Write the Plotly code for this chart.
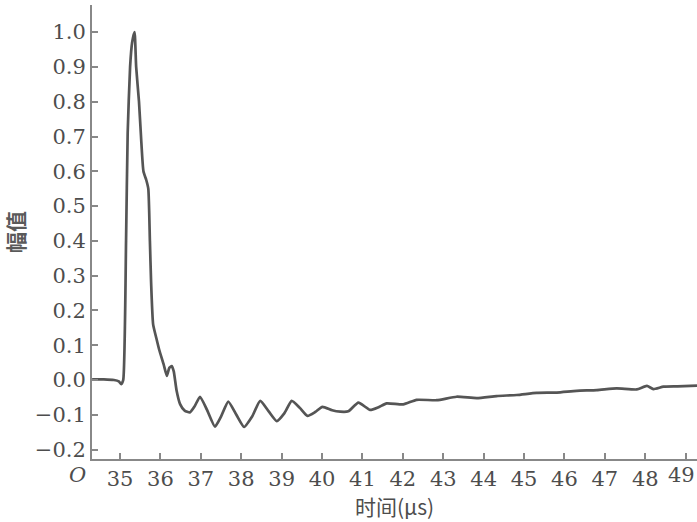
import plotly.graph_objects as go

time_us = [34.31, 34.6, 34.85, 34.97, 35.03, 35.08, 35.15, 35.19, 35.25, 35.30, 35.36,
           35.40, 35.47, 35.52, 35.58, 35.65, 35.70, 35.74, 35.77, 35.82, 35.90, 35.97,
           36.08, 36.16, 36.22, 36.28, 36.33, 36.40, 36.49, 36.6, 36.73, 36.85, 36.98,
           37.15, 37.35, 37.5, 37.68, 37.88, 38.07, 38.27, 38.47, 38.68, 38.88, 39.07,
           39.25, 39.45, 39.64, 39.83, 40.01, 40.25, 40.45, 40.65, 40.9, 41.19, 41.4,
           41.6, 42.01, 42.34, 42.84, 43.33, 43.83, 44.32, 44.82, 45.31, 45.81, 46.3,
           46.8, 47.29, 47.79, 48.04, 48.2, 48.45, 48.8, 49.28]
amplitude = [0.002, 0.002, 0.0, -0.004, -0.012, 0.0, 0.4, 0.71, 0.9, 0.97, 1.0,
             0.9, 0.8, 0.7, 0.6, 0.575, 0.55, 0.4, 0.28, 0.16, 0.12, 0.087,
             0.045, 0.012, 0.035, 0.04, 0.025, -0.03, -0.07, -0.088, -0.093, -0.075, -0.048,
             -0.085, -0.134, -0.105, -0.062, -0.1, -0.135, -0.105, -0.06, -0.09, -0.118, -0.095,
             -0.06, -0.08, -0.103, -0.092, -0.077, -0.087, -0.091, -0.09, -0.065, -0.086, -0.078,
             -0.067, -0.07, -0.057, -0.058, -0.048, -0.052, -0.046, -0.043, -0.037, -0.036, -0.031,
             -0.029, -0.024, -0.027, -0.017, -0.026, -0.019, -0.018, -0.016]

x_ticks = list(range(35, 50))
x_ticklabels = [str(v) for v in x_ticks]
y_ticks = [-0.2, -0.1, 0.0, 0.1, 0.2, 0.3, 0.4, 0.5, 0.6, 0.7, 0.8, 0.9, 1.0]
y_ticklabels = ["\u22120.2", "\u22120.1", "0.0", "0.1", "0.2", "0.3", "0.4",
                "0.5", "0.6", "0.7", "0.8", "0.9", "1.0"]

tick_font = dict(family="DejaVu Serif", size=21, color="#4d4d4d")
cjk = "Noto Sans CJK SC"

# last tick label is drawn as an annotation so that it stays inside the page
shown_x_labels = x_ticklabels[:-1] + [""]

fig = go.Figure()
fig.add_trace(go.Scatter(
    x=time_us, y=amplitude, mode="lines",
    line=dict(color="#555555", width=2.7, shape="spline", smoothing=0.5),
    showlegend=False, hoverinfo="skip"))

fig.update_layout(
    width=697, height=522,
    margin=dict(l=92, r=0, t=5, b=63),
    paper_bgcolor="white", plot_bgcolor="white",
    xaxis=dict(range=[34.307, 49.28], tickvals=x_ticks, ticktext=shown_x_labels,
               ticks="inside", ticklen=6, tickwidth=1.5, tickcolor="#888888",
               showline=True, linecolor="#888888", linewidth=2, automargin=False,
               showgrid=False, zeroline=False, tickfont=tick_font,
               title=dict(text="时间(μs)", font=dict(family=cjk, size=21, color="#4d4d4d"),
                          standoff=0)),
    yaxis=dict(range=[-0.227, 1.078], tickvals=y_ticks, ticktext=y_ticklabels,
               ticks="inside", ticklen=6, tickwidth=1.5, tickcolor="#888888",
               showline=True, linecolor="#888888", linewidth=2, automargin=False,
               showgrid=False, zeroline=False, tickfont=tick_font,
               title=dict(text="<b>幅值</b>", font=dict(family=cjk, size=21, color="#5a5a5a"),
                          standoff=5)),
)
fig.add_annotation(text="<i>O</i>", xref="paper", yref="paper", x=0, y=0,
                   xanchor="right", yanchor="top", xshift=-4, yshift=-2,
                   showarrow=False, font=tick_font)
fig.add_annotation(text=x_ticklabels[-1], xref="paper", yref="paper", x=1, y=0,
                   xanchor="right", yanchor="top", xshift=0, yshift=-2,
                   showarrow=False, font=tick_font)

fig.write_html("out.html", config={"displayModeBar": False},
               post_script="document.body.style.margin='0';document.body.style.overflow='hidden';")
